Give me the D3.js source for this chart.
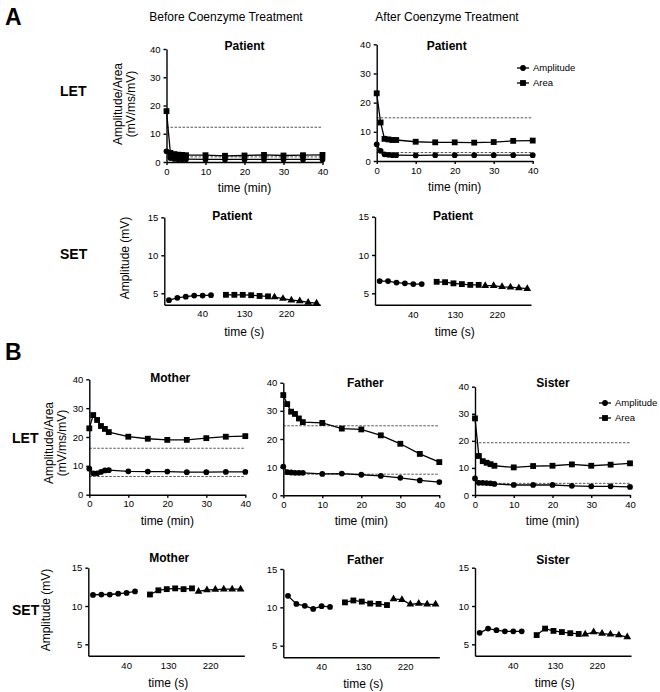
<!DOCTYPE html>
<html>
<head>
<meta charset="utf-8">
<script src="https://cdn.jsdelivr.net/npm/d3@7"></script>
<style>
  body { margin: 0; background: #fff; }
  svg { font-family: "Liberation Sans", Arial, sans-serif; }
  .axis path, .axis line { stroke: #000; stroke-width: 1.4; }
  .axis text { font-size: 9.5px; fill: #000; }
</style>
</head>
<body>
<svg id="fig" width="660" height="692"></svg>
<script>
// LET: amplitude and area over time (min)
var letTime = [0, 1, 2, 3, 4, 5, 10, 15, 20, 25, 30, 35, 40]
var letTicks = [0, 10, 20, 30, 40]

var beforeAmp = [3.8, 1.4, 1.1, 1.0, 1.0, 1.0, 0.9, 0.9, 0.9, 0.9, 0.9, 0.9, 0.9]
var beforeArea = [18, 3.2, 2.8, 2.6, 2.5, 2.4, 2.4, 2.2, 2.3, 2.5, 2.3, 2.4, 2.5]
var beforeRef = [12.3, 1.8]

var afterAmp = [5.7, 3.5, 2.3, 2.1, 2.0, 2.0, 1.9, 2.0, 2.0, 2.0, 2.0, 2.0, 2.0]
var afterArea = [23.2, 13.2, 7.6, 7.4, 7.2, 7.2, 6.6, 6.4, 6.4, 6.3, 6.5, 6.9, 7.0]
var afterRef = [14.8, 2.9]

var motherAmp = [9.0, 7.4, 7.4, 7.9, 8.4, 8.5, 8.1, 8.0, 8.0, 7.8, 7.8, 7.9, 7.9]
var motherArea = [23.0, 27.6, 25.9, 23.8, 22.8, 21.7, 20.1, 19.4, 19.0, 19.0, 19.6, 20.1, 20.3]
var motherRef = [16.1, 6.3]

var fatherAmp = [10.2, 8.2, 8.1, 8.0, 8.0, 8.0, 7.6, 7.7, 7.3, 6.9, 6.2, 5.3, 4.7]
var fatherArea = [35.6, 32.4, 29.7, 28.9, 27.3, 26.0, 25.7, 23.7, 23.4, 21.3, 18.3, 14.7, 11.8]
var fatherRef = [24.7, 7.5]

var sisterAmp = [6.1, 4.5, 4.5, 4.4, 4.3, 4.1, 3.7, 3.7, 3.7, 3.4, 3.2, 3.2, 3.0]
var sisterArea = [28.3, 14.4, 12.5, 11.9, 11.4, 10.8, 10.2, 10.7, 10.8, 11.3, 10.8, 11.2, 11.7]
var sisterRef = [19.3, 4.3]

// SET: amplitude over time (s), three trains of six responses
var setTrain1 = [-31, -13, 5, 23, 41, 59]
var setTrain2 = [91, 109, 127, 145, 163, 181]
var setTrain3 = [195, 213, 231, 249, 267, 285]
var setTicks = [40, 130, 220]
var setYTicks = [5, 10, 15]

var setBefore = [[4.1, 4.4, 4.55, 4.7, 4.7, 4.75], [4.8, 4.8, 4.8, 4.75, 4.65, 4.6], [4.5, 4.3, 4.1, 4.0, 3.8, 3.7]]
var setAfter = [[6.6, 6.6, 6.4, 6.3, 6.2, 6.2], [6.5, 6.45, 6.3, 6.2, 6.1, 6.1], [6.0, 6.0, 5.85, 5.8, 5.7, 5.6]]
var setMother = [[11.45, 11.5, 11.5, 11.6, 11.7, 11.9], [11.5, 12.05, 12.2, 12.3, 12.2, 12.3], [11.9, 12.1, 12.15, 12.2, 12.2, 12.2]]
var setFather = [[11.5, 10.45, 10.2, 9.8, 10.15, 10.05], [10.65, 10.9, 10.75, 10.5, 10.45, 10.3], [11.1, 11.0, 10.4, 10.5, 10.4, 10.4]]
var setSister = [[6.5, 7.05, 6.85, 6.7, 6.7, 6.7], [6.2, 7.05, 6.75, 6.6, 6.45, 6.35], [6.3, 6.6, 6.4, 6.3, 6.2, 5.95]]

var svg = d3.select('#fig')

var symCircle = d3.symbol().type(d3.symbolCircle).size(26)
var symSquare = d3.symbol().type(d3.symbolSquare).size(34)
var symTriangle = d3.symbol().type(d3.symbolTriangle).size(26)

function marks (g, xs, ys, x, y, sym) {
  var pts = xs.map(function (t, i) { return [t, ys[i]] })
  g.append('path')
    .datum(pts)
    .attr('fill', 'none')
    .attr('stroke', '#000')
    .attr('stroke-width', 1.3)
    .attr('d', d3.line().x(function (d) { return x(d[0]) }).y(function (d) { return y(d[1]) }))
  g.selectAll(null)
    .data(pts)
    .enter()
    .append('path')
    .attr('transform', function (d) { return 'translate(' + x(d[0]) + ',' + y(d[1]) + ')' })
    .attr('d', sym)
    .attr('fill', '#000')
}

function title (g, p, txt) {
  g.append('text')
    .attr('x', p.x + p.tdx)
    .attr('y', p.ty)
    .attr('text-anchor', 'middle')
    .attr('font-size', '12px')
    .attr('font-weight', 'bold')
    .text(txt)
}

function letPanel (p, amp, area, ref, name) {
  var g = svg.append('g')
  var x = d3.scaleLinear().domain([0, 40]).range([p.x, p.x + p.w])
  var y = d3.scaleLinear().domain([0, 40]).range([p.y0, p.yTop])

  ref.forEach(function (v) {
    g.append('line')
      .attr('x1', x(0)).attr('x2', x(40))
      .attr('y1', y(v)).attr('y2', y(v))
      .attr('stroke', '#444')
      .attr('stroke-width', 0.9)
      .attr('stroke-dasharray', '2.5,1.5')
  })

  g.append('g').attr('class', 'axis')
    .attr('transform', 'translate(0,' + p.y0 + ')')
    .call(d3.axisBottom(x).tickValues(letTicks).tickSize(3).tickSizeOuter(0))
  g.append('g').attr('class', 'axis')
    .attr('transform', 'translate(' + p.x + ',0)')
    .call(d3.axisLeft(y).tickValues(letTicks).tickSize(3).tickSizeOuter(0))

  marks(g, letTime, area, x, y, symSquare)
  marks(g, letTime, amp, x, y, symCircle)

  g.append('text')
    .attr('x', p.x + p.w / 2)
    .attr('y', p.y0 + 30)
    .attr('text-anchor', 'middle')
    .attr('font-size', '12px')
    .text('time (min)')
  title(g, p, name)
}

function setPanel (p, vals, name) {
  var g = svg.append('g')
  var x = d3.scaleLinear().domain([-41, 293]).range([p.x, p.x + 156])
  var y = d3.scaleLinear().domain([5, 15]).range([p.y5, p.y15])
  var yBottom = y(3.5)

  g.append('g').attr('class', 'axis')
    .attr('transform', 'translate(0,' + yBottom + ')')
    .call(d3.axisBottom(x).tickValues(setTicks).tickSize(0).tickPadding(6).tickSizeOuter(0))
  // y axis runs from the x axis up to 15
  var yAxisScale = y.copy().domain([3.5, 15]).range([yBottom, p.y15])
  g.append('g').attr('class', 'axis')
    .attr('transform', 'translate(' + p.x + ',0)')
    .call(d3.axisLeft(yAxisScale).tickValues(setYTicks).tickSize(3).tickSizeOuter(0))

  marks(g, setTrain1, vals[0], x, y, symCircle)
  marks(g, setTrain2, vals[1], x, y, symSquare)
  marks(g, setTrain3, vals[2], x, y, symTriangle)

  g.append('text')
    .attr('x', x(130))
    .attr('y', yBottom + 31)
    .attr('text-anchor', 'middle')
    .attr('font-size', '12px')
    .text('time (s)')
  title(g, p, name)
}

function ylabel (x, y, lines) {
  lines.forEach(function (t, i) {
    svg.append('text')
      .attr('transform', 'translate(' + (x + i * 12.5) + ',' + y + ') rotate(-90)')
      .attr('text-anchor', 'middle')
      .attr('font-size', '12px')
      .text(t)
  })
}

function legend (x, y) {
  [['Amplitude', symCircle], ['Area', symSquare]].forEach(function (d, i) {
    var yy = y + i * 15
    svg.append('line').attr('x1', x - 6).attr('x2', x + 6).attr('y1', yy).attr('y2', yy)
      .attr('stroke', '#000').attr('stroke-width', 1.3)
    svg.append('path').attr('transform', 'translate(' + x + ',' + yy + ')').attr('d', d[1]()).attr('fill', '#000')
    svg.append('text').attr('x', x + 10).attr('y', yy).attr('dy', '0.35em')
      .attr('font-size', '9.5px').text(d[0])
  })
}

function label (x, y, txt, size) {
  svg.append('text').attr('x', x).attr('y', y)
    .attr('font-size', size).attr('font-weight', 'bold').text(txt)
}

// panel A
label(5, 25, 'A', '23px')
svg.append('text').attr('x', 226).attr('y', 21).attr('text-anchor', 'middle').attr('font-size', '12px').text('Before Coenzyme Treatment')
svg.append('text').attr('x', 447).attr('y', 21).attr('text-anchor', 'middle').attr('font-size', '12px').text('After Coenzyme Treatment')
label(60, 96, 'LET', '14px')
label(60, 259, 'SET', '14px')

letPanel({ x: 166.5, w: 156, yTop: 49, y0: 162, tdx: 78, ty: 50 }, beforeAmp, beforeArea, beforeRef, 'Patient')
letPanel({ x: 376.7, w: 156, yTop: 44.3, y0: 161, tdx: 70, ty: 50 }, afterAmp, afterArea, afterRef, 'Patient')
ylabel(122, 104, ['Amplitude/Area', '(mV/ms/mV)'])
legend(523, 68)

setPanel({ x: 164.3, y15: 217.3, y5: 293.3, tdx: 68, ty: 220 }, setBefore, 'Patient')
setPanel({ x: 375, y15: 216.7, y5: 293.3, tdx: 78, ty: 220 }, setAfter, 'Patient')
ylabel(129, 258, ['Amplitude (mV)'])

// panel B
label(5, 360, 'B', '23px')
label(12, 443, 'LET', '14px')
label(12, 615, 'SET', '14px')

letPanel({ x: 89.3, w: 156, yTop: 379.3, y0: 494.7, tdx: 81, ty: 382 }, motherAmp, motherArea, motherRef, 'Mother')
letPanel({ x: 283.3, w: 156, yTop: 382.7, y0: 495.3, tdx: 82, ty: 387 }, fatherAmp, fatherArea, fatherRef, 'Father')
letPanel({ x: 475, w: 155, yTop: 386.7, y0: 495, tdx: 78, ty: 387 }, sisterAmp, sisterArea, sisterRef, 'Sister')
ylabel(53, 443, ['Amplitude/Area', '(mV/ms/mV)'])
legend(605, 403)

setPanel({ x: 88.3, y15: 567.7, y5: 644.3, tdx: 81, ty: 562 }, setMother, 'Mother')
setPanel({ x: 283.3, y15: 569, y5: 645.7, tdx: 82, ty: 564 }, setFather, 'Father')
setPanel({ x: 475, y15: 567.7, y5: 644.3, tdx: 78, ty: 564 }, setSister, 'Sister')
ylabel(50, 610, ['Amplitude (mV)'])
</script>
</body>
</html>
